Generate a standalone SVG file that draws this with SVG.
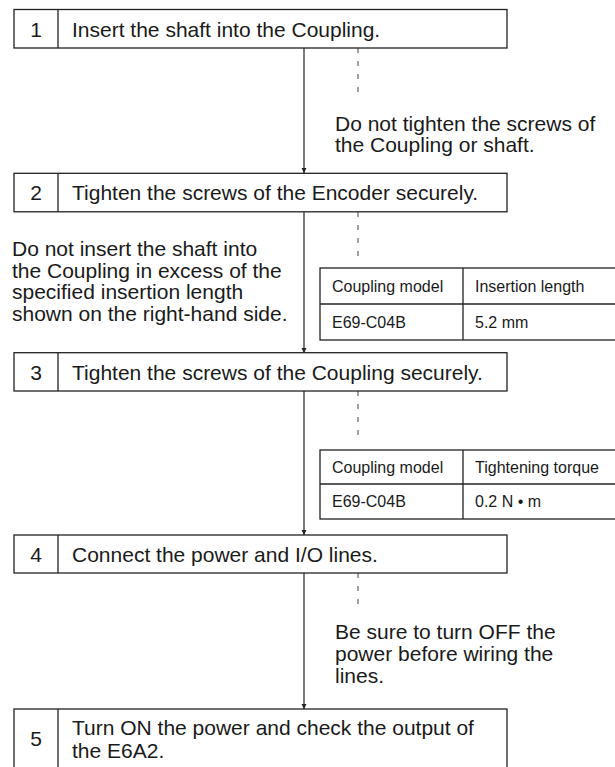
<svg xmlns="http://www.w3.org/2000/svg" width="615" height="767" viewBox="0 0 615 767">
<style>
  .box { fill: #fff; stroke: #222; stroke-width: 1.3; }
  .ln { stroke: #222; stroke-width: 1.3; fill: none; }
  .arrow { stroke: #222; stroke-width: 1.2; fill: none; marker-end: url(#ah); }
  .dash { stroke: #444; stroke-width: 1; stroke-dasharray: 5 8; fill: none; }
  .t { font-family: "Liberation Sans", Arial, sans-serif; font-size: 21px; fill: #1a1a1a; }
  .num { text-anchor: middle; }
  .s { font-family: "Liberation Sans", Arial, sans-serif; font-size: 16px; fill: #1a1a1a; }
</style>
<defs>
  <marker id="ah" viewBox="0 0 10 10" refX="10" refY="5" markerWidth="5" markerHeight="8" markerUnits="userSpaceOnUse" orient="auto">
    <path d="M0,0 L10,5 L0,10 z" fill="#222"/>
  </marker>
</defs>
<rect width="615" height="767" fill="#fff"/>

<g id="connectors">
  <line class="arrow" x1="304" y1="48" x2="304" y2="173"/>
  <line class="arrow" x1="304" y1="212" x2="304" y2="353"/>
  <line class="arrow" x1="304" y1="391" x2="304" y2="535"/>
  <line class="arrow" x1="304" y1="573" x2="304" y2="709"/>
  <line class="dash" x1="358" y1="48" x2="358" y2="97"/>
  <line class="dash" x1="358" y1="212" x2="358" y2="260"/>
  <line class="dash" x1="358" y1="391" x2="358" y2="443"/>
  <line class="dash" x1="358" y1="573" x2="358" y2="610"/>
</g>

<g id="step1">
  <rect class="box" x="14" y="9.5" width="493" height="38.5"/>
  <line class="ln" x1="58" y1="9.5" x2="58" y2="48"/>
  <text class="t num" x="36" y="36.5">1</text>
  <text class="t" x="72" y="36.5">Insert the shaft into the Coupling.</text>
</g>

<g id="note1">
  <text class="t" x="335" y="130.5">Do not tighten the screws of</text>
  <text class="t" x="335" y="152">the Coupling or shaft.</text>
</g>

<g id="step2">
  <rect class="box" x="14" y="173.3" width="493" height="38.5"/>
  <line class="ln" x1="58" y1="173.3" x2="58" y2="211.8"/>
  <text class="t num" x="36" y="200">2</text>
  <text class="t" x="72" y="200">Tighten the screws of the Encoder securely.</text>
</g>

<g id="note2">
  <text class="t" x="12" y="256">Do not insert the shaft into</text>
  <text class="t" x="12" y="277.5">the Coupling in excess of the</text>
  <text class="t" x="12" y="299">specified insertion length</text>
  <text class="t" x="12" y="320.5">shown on the right-hand side.</text>
</g>

<g id="table1">
  <rect class="box" x="320" y="268" width="300" height="72"/>
  <line class="ln" x1="320" y1="304" x2="620" y2="304"/>
  <line class="ln" x1="463" y1="268" x2="463" y2="340"/>
  <text class="s" x="332" y="292">Coupling model</text>
  <text class="s" x="475" y="292">Insertion length</text>
  <text class="s" x="332" y="328">E69-C04B</text>
  <text class="s" x="475" y="328">5.2 mm</text>
</g>

<g id="step3">
  <rect class="box" x="14" y="352.7" width="493" height="38.3"/>
  <line class="ln" x1="58" y1="352.7" x2="58" y2="391"/>
  <text class="t num" x="36" y="379.5">3</text>
  <text class="t" x="72" y="379.5">Tighten the screws of the Coupling securely.</text>
</g>

<g id="table2">
  <rect class="box" x="320" y="450" width="300" height="69"/>
  <line class="ln" x1="320" y1="484" x2="620" y2="484"/>
  <line class="ln" x1="463" y1="450" x2="463" y2="519"/>
  <text class="s" x="332" y="473">Coupling model</text>
  <text class="s" x="475" y="473">Tightening torque</text>
  <text class="s" x="332" y="507">E69-C04B</text>
  <text class="s" x="475" y="507">0.2 N • m</text>
</g>

<g id="step4">
  <rect class="box" x="14" y="535" width="493" height="38"/>
  <line class="ln" x1="58" y1="535" x2="58" y2="573"/>
  <text class="t num" x="36" y="561.5">4</text>
  <text class="t" x="72" y="561.5">Connect the power and I/O lines.</text>
</g>

<g id="note4">
  <text class="t" x="335" y="639">Be sure to turn OFF the</text>
  <text class="t" x="335" y="661">power before wiring the</text>
  <text class="t" x="335" y="683">lines.</text>
</g>

<g id="step5">
  <rect class="box" x="14" y="709" width="493" height="70"/>
  <line class="ln" x1="58" y1="709" x2="58" y2="779"/>
  <text class="t num" x="36" y="746">5</text>
  <text class="t" x="72" y="735">Turn ON the power and check the output of</text>
  <text class="t" x="72" y="757.5">the E6A2.</text>
</g>
</svg>
